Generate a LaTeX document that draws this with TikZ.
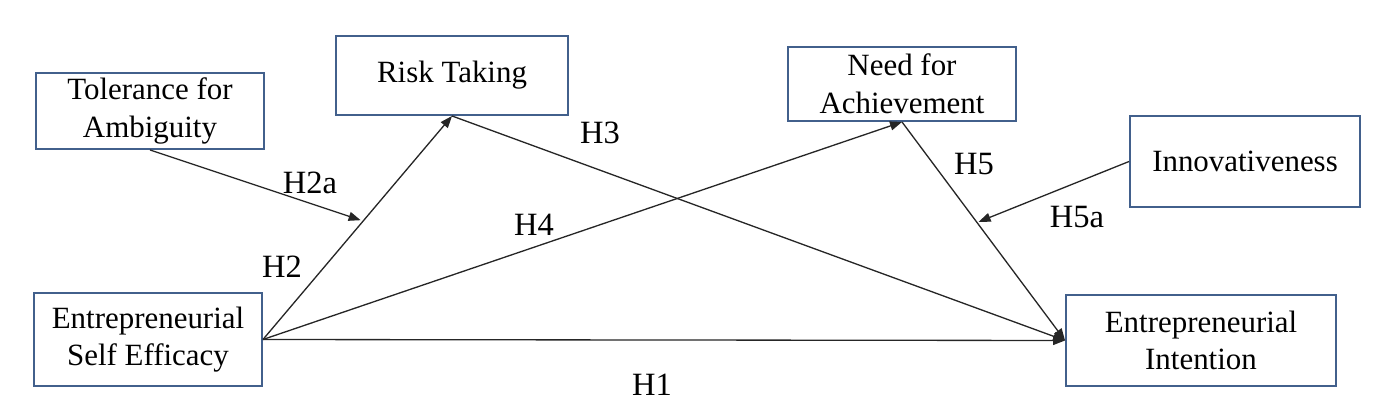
\documentclass[tikz,border=0pt]{standalone}
\usepackage{fontspec}
\setmainfont{Liberation Serif}
\newfontfamily\timesfont{Liberation Serif}
\usetikzlibrary{arrows.meta}
\usetikzlibrary{calc}
\definecolor{boxblue}{RGB}{66,96,140}

\begin{document}
\begin{tikzpicture}[box/.style={draw=boxblue, line width=1.1pt, fill=white, align=center, inner sep=0pt, font=\timesfont\fontsize{17.6}{21.5}\selectfont},
  link/.style={draw=black!85, line width=0.75pt, -{Triangle[length=0.24cm,width=0.18cm]}},
  hyp/.style={font=\timesfont\fontsize{18.5}{22}\selectfont}]

\useasboundingbox (0,0) rectangle (27.78,8.14);

% Boxes
  \node[box, minimum width=4.56cm, minimum height=1.52cm] (tol) at (3.0,5.92) {Tolerance for\\Ambiguity};
  \node[box, minimum width=4.64cm, minimum height=1.58cm] (risk) at (9.04,6.63) {Risk Taking};
  \node[box, minimum width=4.56cm, minimum height=1.48cm] (nach) at (18.04,6.46) {Need for\\Achievement};
  \node[box, minimum width=4.6cm, minimum height=1.82cm] (innov) at (24.9,4.91) {Innovativeness};
  \node[box, minimum width=4.56cm, minimum height=1.86cm] (ese) at (2.96,1.35) {Entrepreneurial\\Self Efficacy};
  \node[box, minimum width=5.4cm, minimum height=1.82cm] (ei) at (24.02,1.33) {Entrepreneurial\\Intention};

% Paths
  \draw[link] (ese.east) -- (risk.south);
  \draw[link] (risk.south) -- (ei.west);
  \draw[link] (ese.east) -- (nach.south);
  \draw[link] (nach.south) -- (ei.west);
  \draw[link] (ese.east) -- (ei.west);

    % moderators
    \coordinate (modrisk) at ($(ese.east)!0.53!(risk.south)$);
    \coordinate (modnach) at ($(nach.south)!0.46!(ei.west)$);
    \draw[link, shorten >=1.5pt] (tol.south) -- (modrisk);
    \draw[link, shorten >=1pt] (innov.west) -- (modnach);

% Hypotheses
  \node[hyp] (h2a) at (6.2,4.48) {H2a};
  \node[hyp] (h2) at (5.64,2.8) {H2};
  \node[hyp] (h4) at (10.68,3.64) {H4};
  \node[hyp] (h3) at (12.0,5.48) {H3};
  \node[hyp] (h5) at (19.48,4.86) {H5};
  \node[hyp] (h5a) at (21.54,3.8) {H5a};
  \node[hyp] (h1) at (13.04,0.44) {H1};

\end{tikzpicture}
\end{document}
